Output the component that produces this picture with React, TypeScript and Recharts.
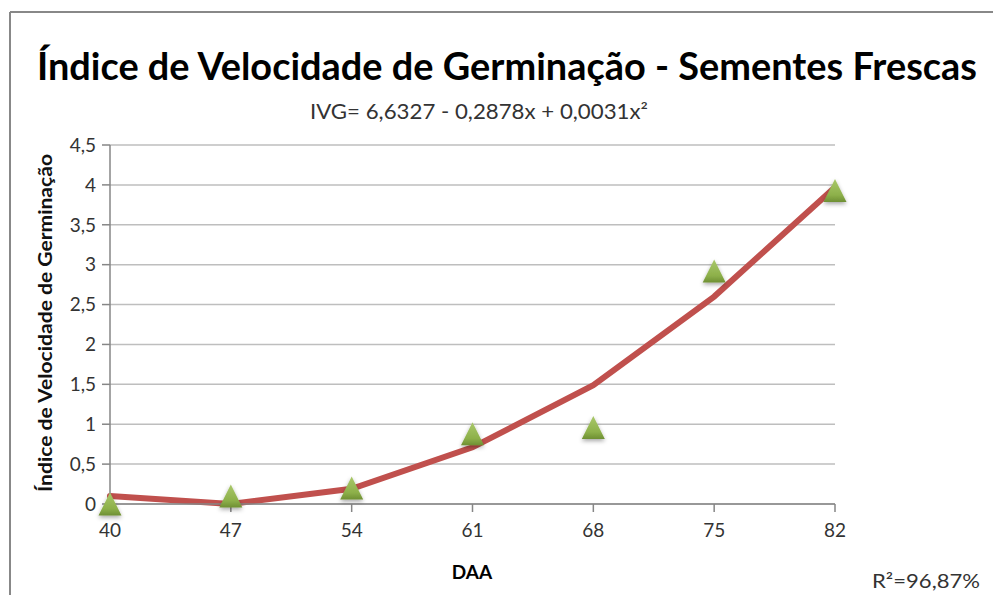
import { CartesianGrid, ComposedChart, Line, Scatter, XAxis, YAxis } from 'recharts';

const daa = [40, 47, 54, 61, 68, 75, 82];
const observedIvg = [0, 0.1, 0.2, 0.88, 0.96, 2.92, 3.93];
const fittedIvg = [0.1, 0.0, 0.19, 0.71, 1.49, 2.6, 3.97];
const yTicks = [0, 0.5, 1, 1.5, 2, 2.5, 3, 3.5, 4, 4.5];

const chartData = daa.map((x, i) => ({ x, fit: fittedIvg[i], obs: observedIvg[i] }));

const FONT = 'Lato, "Open Sans", sans-serif';

const Triangle = (props: any) => {
  const { cx, cy } = props;
  if (cx == null || cy == null) return null;
  const h = 23;
  const w = 23;
  const pts = `${cx},${cy - h / 2} ${cx + w / 2},${cy + h / 2} ${cx - w / 2},${cy + h / 2}`;
  return <polygon points={pts} fill="url(#triFill)" filter="url(#triShadow)" />;
};

const commaFmt = (v: number) => String(v).replace('.', ',');

export default function App() {
  return (
    <div style={{ position: 'absolute', left: 0, top: 0, width: 993, height: 595, overflow: 'hidden', background: '#fff' }}>
      <ComposedChart
        width={993}
        height={595}
        data={chartData}
        margin={{ top: 145, right: 158, bottom: 61, left: 50 }}
      >
        <CartesianGrid vertical={false} stroke="#BEBEBE" strokeWidth={1.5} />
        <XAxis
          dataKey="x"
          type="number"
          domain={[40, 82]}
          ticks={daa}
          height={30}
          axisLine={{ stroke: '#868686', strokeWidth: 1.5 }}
          tickLine={{ stroke: '#868686', strokeWidth: 1.5 }}
          tickSize={8}
          tickMargin={12}
          tick={{ fill: '#333', fontSize: 19, fontFamily: FONT }}
        />
        <YAxis
          domain={[0, 4.5]}
          ticks={yTicks}
          width={60}
          tickFormatter={commaFmt}
          axisLine={{ stroke: '#868686', strokeWidth: 1.5 }}
          tickLine={{ stroke: '#868686', strokeWidth: 1.5 }}
          tickSize={8}
          tickMargin={6}
          tick={{ fill: '#333', fontSize: 19, fontFamily: FONT }}
        />
        <Line
          type="linear"
          dataKey="fit"
          stroke="#C0504D"
          strokeWidth={6}
          strokeLinecap="round"
          dot={false}
          activeDot={false}
          isAnimationActive={false}
        />
        <Scatter dataKey="obs" shape={Triangle} isAnimationActive={false} />
      </ComposedChart>
      <svg
        width={993}
        height={595}
        style={{ position: 'absolute', left: 0, top: 0, pointerEvents: 'none' }}
      >
        <defs>
          <linearGradient id="triFill" x1="0" y1="0" x2="0" y2="1">
            <stop offset="0%" stopColor="#A9C86A" />
            <stop offset="70%" stopColor="#8DB04A" />
            <stop offset="100%" stopColor="#6E8F33" />
          </linearGradient>
          <filter id="triShadow" x="-50%" y="-50%" width="200%" height="200%">
            <feDropShadow dx="0" dy="2" stdDeviation="2" floodColor="#000" floodOpacity="0.35" />
          </filter>
        </defs>
        <line x1={10} y1={12} x2={993} y2={12} stroke="#888" strokeWidth={2} />
        <line x1={10} y1={12} x2={10} y2={595} stroke="#888" strokeWidth={2} />
        <text
          x={37}
          y={80}
          fontFamily={FONT}
          fontWeight="bold"
          fontSize={38}
          fill="#000"
          textLength={940}
          lengthAdjust="spacingAndGlyphs"
        >
          Índice de Velocidade de Germinação - Sementes Frescas
        </text>
        <text
          x={310}
          y={119}
          fontFamily={FONT}
          fontSize={21}
          fill="#333"
          textLength={338}
          lengthAdjust="spacingAndGlyphs"
        >
          IVG= 6,6327 - 0,2878x + 0,0031x²
        </text>
        <text
          x={0}
          y={0}
          transform="translate(52 492) rotate(-90)"
          fontFamily={FONT}
          fontWeight="bold"
          fontSize={19}
          fill="#111"
          textLength={338}
          lengthAdjust="spacingAndGlyphs"
        >
          Índice de Velocidade de Germinação
        </text>
        <text x={472} y={579} textAnchor="middle" fontFamily={FONT} fontWeight="bold" fontSize={19} fill="#000">
          DAA
        </text>
        <text
          x={872}
          y={588}
          fontFamily={FONT}
          fontSize={19}
          fill="#333"
          textLength={108}
          lengthAdjust="spacingAndGlyphs"
        >
          R²=96,87%
        </text>
      </svg>
    </div>
  );
}
